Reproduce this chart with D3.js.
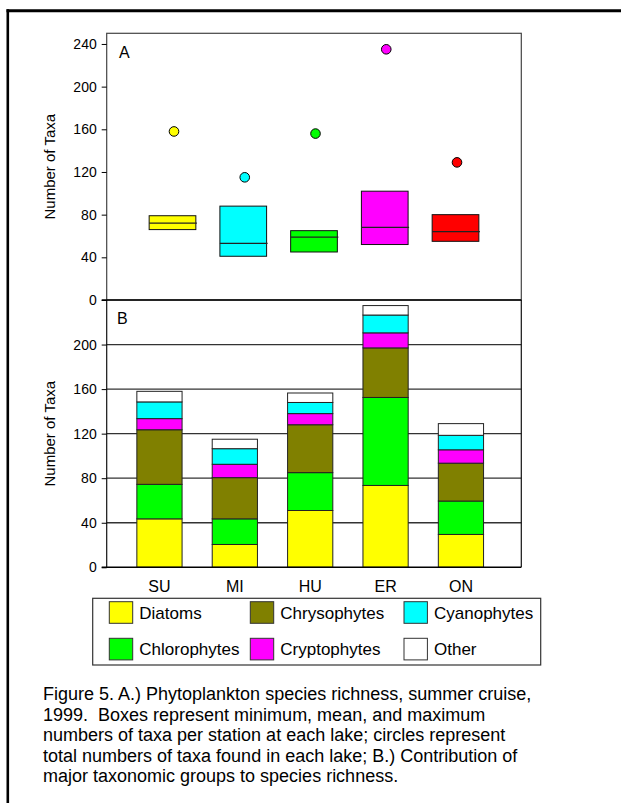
<!DOCTYPE html>
<html>
<head>
<meta charset="utf-8">
<script src="https://cdn.jsdelivr.net/npm/d3@7"></script>
<style>
  html, body { margin: 0; padding: 0; background: #fff; }
  svg { display: block; font-family: "Liberation Sans", Arial, Helvetica, sans-serif; }
  .cap tspan { white-space: pre; }
</style>
</head>
<body>
<svg id="chart" width="621" height="803"></svg>
<script>
// ---------------- data ----------------
const lakes = ["SU", "MI", "HU", "ER", "ON"];
const lakeColors = ["#FFFF00", "#00FFFF", "#00FF00", "#FF00FF", "#FF0000"];

// Panel A: per-station min / mean / max and lake total
const boxMin  = [66, 41, 45, 52, 55];
const boxMean = [72, 53, 59, 68, 64];
const boxMax  = [79, 88, 65, 102, 80];
const totalTaxa = [158, 115, 156, 235, 129];

// Panel B: taxa by group (stack order bottom -> top)
const groups = ["Diatoms", "Chlorophytes", "Chrysophytes", "Cryptophytes", "Cyanophytes", "Other"];
const groupColors = ["#FFFF00", "#00FF00", "#808000", "#FF00FF", "#00FFFF", "#FFFFFF"];
const diatoms      = [43.5, 20.5, 51, 73.5, 29.5];
const chlorophytes = [31, 23, 34, 79, 30];
const chrysophytes = [49, 37, 43, 44.5, 34];
const cryptophytes = [10, 12, 10, 13.5, 12];
const cyanophytes  = [15, 14, 10, 16, 13];
const other        = [9.5, 8.5, 8.5, 8.5, 10.5];

const ticksA = [0, 40, 80, 120, 160, 200, 240];
const ticksB = [0, 40, 80, 120, 160, 200];

// legend layout order (row-major)
const legendOrder = ["Diatoms", "Chrysophytes", "Cyanophytes", "Chlorophytes", "Cryptophytes", "Other"];

const captionLines = [
  "Figure 5. A.) Phytoplankton species richness, summer cruise,",
  "1999.  Boxes represent minimum, mean, and maximum",
  "numbers of taxa per station at each lake; circles represent",
  "total numbers of taxa found in each lake; B.) Contribution of",
  "major taxonomic groups to species richness."
];

// ---------------- layout ----------------
const svg = d3.select("#chart");
const L = 106.7, R = 521.3;
const topA = 33.3, mid = 300, botB = 567.3;

// outer frame (top + left)
svg.append("line").attr("x1", 6.5).attr("x2", 621).attr("y1", 10.7).attr("y2", 10.7)
  .attr("stroke", "#000").attr("stroke-width", 3);
svg.append("line").attr("x1", 7.8).attr("x2", 7.8).attr("y1", 9.2).attr("y2", 803)
  .attr("stroke", "#000").attr("stroke-width", 2.6);

// ---------------- Panel A ----------------
const yA = d3.scaleLinear().domain([0, 250]).range([mid, topA]);
const xA = d3.scaleBand().domain(lakes).range([L, R]).paddingInner(0.34).paddingOuter(0.6);

const gA = svg.append("g");
gA.append("rect").attr("x", L).attr("y", topA).attr("width", R - L).attr("height", mid - topA)
  .attr("fill", "none").attr("stroke", "#444").attr("stroke-width", 1.2);

const axA = gA.append("g").attr("transform", `translate(${L},0)`)
  .call(d3.axisLeft(yA).tickValues(ticksA).tickSize(5).tickPadding(5));
axA.select(".domain").remove();
axA.selectAll("text").attr("font-size", 14).attr("fill", "#000").attr("font-family", null);
axA.selectAll("line").attr("stroke", "#000");

gA.append("text").attr("x", 119).attr("y", 58).attr("font-size", 16).text("A");

const boxes = gA.selectAll("g.box").data(lakes).join("g").attr("class", "box");
boxes.append("rect")
  .attr("x", d => xA(d)).attr("width", xA.bandwidth())
  .attr("y", (d, i) => yA(boxMax[i]))
  .attr("height", (d, i) => yA(boxMin[i]) - yA(boxMax[i]))
  .attr("fill", (d, i) => lakeColors[i])
  .attr("stroke", "#111").attr("stroke-width", 1);
boxes.append("line")
  .attr("x1", d => xA(d)).attr("x2", d => xA(d) + xA.bandwidth() + 1)
  .attr("y1", (d, i) => yA(boxMean[i])).attr("y2", (d, i) => yA(boxMean[i]))
  .attr("stroke", "#222").attr("stroke-width", 1.2);
boxes.append("circle")
  .attr("cx", d => xA(d) + xA.bandwidth() / 2 + 1.5)
  .attr("cy", (d, i) => yA(totalTaxa[i]))
  .attr("r", 4.8)
  .attr("fill", (d, i) => lakeColors[i])
  .attr("stroke", "#000").attr("stroke-width", 1);

// ---------------- Panel B ----------------
const yB = d3.scaleLinear().domain([0, 240]).range([botB, mid]);
const xB = d3.scaleBand().domain(lakes).range([L, 513.7]).paddingInner(0.4).paddingOuter(0.4);

const gB = svg.append("g");
// gridlines
gB.selectAll("line.grid").data(ticksB.slice(1)).join("line").attr("class", "grid")
  .attr("x1", L).attr("x2", R).attr("y1", d => yB(d)).attr("y2", d => yB(d))
  .attr("stroke", "#333").attr("stroke-width", 1.3);

const seriesVals = [diatoms, chlorophytes, chrysophytes, cryptophytes, cyanophytes, other];
const rows = lakes.map((lake, i) => {
  const o = { lake };
  groups.forEach((g, k) => { o[g] = seriesVals[k][i]; });
  return o;
});
const stacked = d3.stack().keys(groups)(rows);

gB.selectAll("g.layer").data(stacked).join("g").attr("class", "layer")
  .attr("fill", (d, k) => groupColors[k])
  .selectAll("rect").data(d => d).join("rect")
  .attr("x", d => xB(d.data.lake)).attr("width", xB.bandwidth())
  .attr("y", d => yB(d[1])).attr("height", d => yB(d[0]) - yB(d[1]))
  .attr("stroke", "#222").attr("stroke-width", 1);

// plot frame B
gB.append("line").attr("x1", L).attr("x2", L).attr("y1", mid).attr("y2", botB).attr("stroke", "#111").attr("stroke-width", 1.2);
gB.append("line").attr("x1", R).attr("x2", R).attr("y1", mid).attr("y2", botB).attr("stroke", "#111").attr("stroke-width", 1.2);
gB.append("line").attr("x1", L - 5).attr("x2", R).attr("y1", botB).attr("y2", botB).attr("stroke", "#000").attr("stroke-width", 1.5);
// shared middle line
svg.append("line").attr("x1", L - 5).attr("x2", R).attr("y1", mid).attr("y2", mid).attr("stroke", "#000").attr("stroke-width", 1.6);

const axB = gB.append("g").attr("transform", `translate(${L},0)`)
  .call(d3.axisLeft(yB).tickValues(ticksB).tickSize(5).tickPadding(5));
axB.select(".domain").remove();
axB.selectAll("text").attr("font-size", 14).attr("fill", "#000").attr("font-family", null);
axB.selectAll("line").attr("stroke", "#000");

const axXB = gB.append("g").attr("transform", `translate(0,${botB})`)
  .call(d3.axisBottom(xB).tickSize(0).tickPadding(13));
axXB.select(".domain").remove();
axXB.selectAll("text").attr("font-size", 16).attr("fill", "#000").attr("font-family", null);

gB.append("text").attr("x", 117).attr("y", 324).attr("font-size", 16).text("B");

// y titles
[[166.7], [433.7]].forEach(([cy]) => {
  svg.append("text").attr("transform", `translate(55,${cy}) rotate(-90)`)
    .attr("text-anchor", "middle").attr("font-size", 15).text("Number of Taxa");
});

// ---------------- Legend ----------------
const lg = svg.append("g");
lg.append("rect").attr("x", 92.7).attr("y", 598.3).attr("width", 448).attr("height", 66.7)
  .attr("fill", "none").attr("stroke", "#333").attr("stroke-width", 1.2);
const colX = [109.3, 250.3, 404];
const rowY = [601.7, 638.3];
legendOrder.forEach((name, j) => {
  const c = j % 3, r = Math.floor(j / 3);
  const k = groups.indexOf(name);
  lg.append("rect").attr("x", colX[c]).attr("y", rowY[r]).attr("width", 23.4).attr("height", 21.6)
    .attr("fill", groupColors[k]).attr("stroke", "#333").attr("stroke-width", 1);
  lg.append("text").attr("x", colX[c] + 30).attr("y", rowY[r] + 17).attr("font-size", 17).text(name);
});

// ---------------- Caption ----------------
const cap = svg.append("text").attr("class", "cap").attr("font-size", 18).attr("fill", "#000")
  .attr("xml:space", "preserve");
captionLines.forEach((t, i) => {
  cap.append("tspan").attr("x", 43).attr("y", 700 + i * 20.5).text(t);
});
</script>
</body>
</html>
